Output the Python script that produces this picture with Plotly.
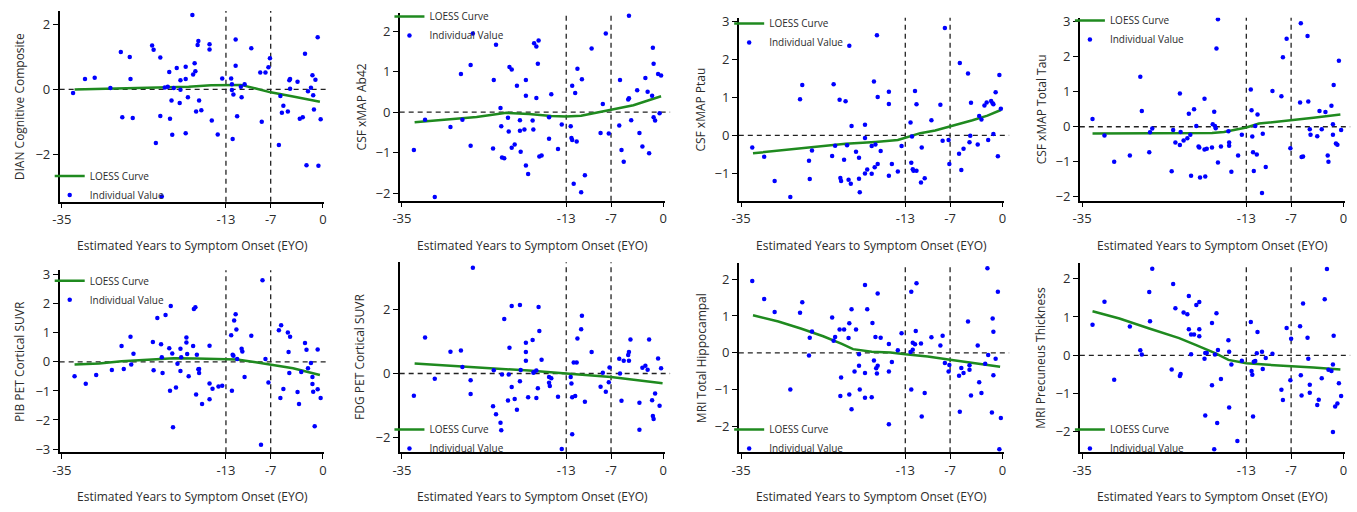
import plotly.graph_objects as go

W, H = 1357, 512

# ---------------- data ----------------
eyo_ticks = [-35, -13, -7, 0]
onset_lines = [-13, -7]

panel_titles = [
    "DIAN Cognitive Composite", "CSF xMAP Ab42", "CSF xMAP Ptau", "CSF xMAP Total Tau",
    "PIB PET Cortical SUVR", "FDG PET Cortical SUVR", "MRI Total Hippocampal", "MRI Precuneus Thickness",
]
x_title = "Estimated Years to Symptom Onset (EYO)"

y_tick_vals = [
    [-2, 0, 2], [-2, -1, 0, 1, 2], [-1, 0, 1, 2, 3], [-2, -1, 0, 1, 2, 3],
    [-3, -2, -1, 0, 1, 2, 3], [-2, 0, 2], [-2, -1, 0, 1, 2], [-2, -1, 0, 1, 2],
]
y_ranges = [
    [-3.46, 2.42], [-2.19, 2.45], [-1.72, 3.1], [-2.11, 3.11],
    [-3.11, 3.16], [-2.45, 3.46], [-2.7, 2.43], [-2.53, 2.4],
]
x_range = [-35.3, 0.2]

# individual values (EYO, value)
dian_points = [
    (-33.5, -0.11), (-31.9, 0.32), (-30.6, 0.36), (-28.5, 0.04), (-27.1, 1.15), (-26.9, -0.86),
    (-25.9, 1.0), (-25.8, 0.32), (-25.5, -0.88), (-22.9, 1.35), (-22.7, 1.22), (-22.4, -1.65),
    (-21.8, 0.98), (-21.8, -0.82), (-21.6, -3.3), (-21.2, 0.06), (-20.8, 0.08), (-20.6, 0.54),
    (-20.5, -0.9), (-20.3, -0.34), (-20.2, -1.4), (-20.0, 0.04), (-19.6, 0.66), (-19.2, -0.42),
    (-19.1, 0.28), (-19.1, -0.01), (-18.4, 0.7), (-18.4, 0.32), (-18.4, -1.35), (-18.1, -0.24),
    (-17.5, 2.29), (-17.4, 0.46), (-17.2, 0.81), (-17.1, 0.56), (-17.0, -0.68), (-16.8, 1.37),
    (-16.7, 1.49), (-16.6, -0.34), (-16.3, -0.64), (-15.2, 1.39), (-15.2, 1.23), (-14.9, -0.96),
    (-14.1, -1.39), (-13.5, 0.34), (-12.3, 0.34), (-12.2, 0.16), (-12.2, -0.02), (-12.1, -1.53),
    (-12.0, -0.16), (-11.7, 1.54), (-11.7, 0.73), (-11.5, -0.83), (-11.0, 0.08), (-10.9, -0.24),
    (-10.5, 0.16), (-9.6, 1.27), (-8.4, 0.52), (-8.2, -1.0), (-7.7, 0.52), (-7.3, 0.68),
    (-7.1, 0.96), (-5.9, -1.71), (-5.7, -0.2), (-5.5, -0.72), (-5.3, -0.5), (-4.7, -0.68),
    (-4.5, 0.28), (-4.4, 0.02), (-4.4, 0.32), (-3.4, 0.24), (-3.1, -0.9), (-2.7, -0.86),
    (-2.4, 1.1), (-2.2, -2.34), (-2.0, -0.06), (-1.6, 0.05), (-1.4, 0.44), (-1.3, -0.18),
    (-1.2, -0.62), (-1.0, 0.3), (-0.7, 1.61), (-0.6, -2.35), (-0.3, -0.92),
]
ab42_points = [
    (-33.4, -0.94), (-31.9, -0.19), (-30.6, -2.1), (-28.5, -0.37), (-27.1, 0.94), (-26.9, -0.19),
    (-25.8, 1.16), (-25.8, -0.83), (-25.5, 1.94), (-22.8, -0.9), (-22.7, 0.79), (-22.4, 1.66),
    (-21.8, 0.1), (-21.7, -0.35), (-21.6, -1.12), (-21.3, -1.14), (-20.8, -0.14), (-20.7, -0.48),
    (-20.6, 1.11), (-20.3, 1.05), (-20.3, -0.88), (-19.9, -0.8), (-19.6, 0.65), (-19.2, -0.2),
    (-19.2, -0.46), (-19.1, -0.98), (-18.6, -0.43), (-18.4, 0.79), (-18.4, 0.4), (-18.4, -1.32),
    (-18.1, -1.53), (-17.5, -0.21), (-17.4, -0.43), (-17.3, 1.7), (-17.0, 1.62), (-17.0, 0.35),
    (-16.8, 1.19), (-16.7, 1.77), (-16.6, -1.1), (-16.3, -1.07), (-15.3, -0.66), (-15.3, -0.13),
    (-15.0, 0.44), (-14.1, -0.91), (-13.6, -0.31), (-12.4, -0.35), (-12.3, -0.64), (-12.2, -0.69),
    (-12.2, 0.65), (-12.0, -1.77), (-11.8, 0.47), (-11.6, -0.73), (-11.5, 1.07), (-11.0, -1.98),
    (-10.9, 0.81), (-10.5, -1.56), (-9.6, 1.57), (-8.4, -0.52), (-8.1, 0.2), (-7.7, 1.94),
    (-7.3, -0.53), (-5.8, 0.79), (-5.9, -0.33), (-5.6, -0.94), (-5.3, -1.23), (-4.7, 0.31),
    (-4.6, 0.34), (-4.6, 2.38), (-4.3, -0.2), (-3.5, 0.54), (-3.2, -0.52), (-2.8, -0.85),
    (-2.4, 0.84), (-2.1, 0.5), (-1.9, -1.02), (-1.5, 0.4), (-1.4, 1.59), (-1.3, 1.19),
    (-1.3, -0.13), (-1.1, -0.21), (-0.7, 0.94), (-0.5, -0.03), (-0.3, 0.9),
]
ptau_points = [
    (-33.5, -0.32), (-31.9, -0.56), (-30.5, -1.2), (-28.4, -1.62), (-27.1, 0.95), (-26.8, 1.33),
    (-25.9, -0.67), (-25.8, -1.15), (-25.5, -0.4), (-22.8, -0.54), (-22.6, 1.35), (-22.4, -0.27),
    (-21.8, 0.94), (-21.7, -1.12), (-21.6, -1.2), (-21.2, -0.64), (-21.0, 0.9), (-20.8, -0.26),
    (-20.6, -1.17), (-20.5, 2.36), (-20.3, -1.27), (-20.2, 0.25), (-19.6, -0.43), (-19.2, -0.59),
    (-19.2, -1.14), (-19.1, -1.5), (-18.4, 0.28), (-18.4, -0.07), (-18.4, -1.0), (-18.1, -0.9),
    (-17.5, -1.01), (-17.5, -0.28), (-17.2, 1.42), (-17.1, -0.84), (-17.0, -0.24), (-16.8, 2.64),
    (-16.7, -0.75), (-16.7, 1.01), (-16.3, -0.41), (-15.2, 0.83), (-15.2, 1.15), (-15.2, -1.06),
    (-14.8, -0.75), (-14.0, -0.95), (-13.5, -0.28), (-12.3, 0.34), (-12.2, -0.72), (-12.1, -0.03),
    (-12.0, -0.89), (-11.9, -0.93), (-11.7, 1.17), (-11.5, -0.93), (-11.5, 0.82), (-10.9, -1.24),
    (-10.8, -0.32), (-10.4, -1.13), (-9.5, 0.4), (-8.3, 0.81), (-8.0, -0.14), (-7.7, 2.83),
    (-7.2, -0.12), (-7.1, -0.75), (-5.7, 1.91), (-5.8, -0.48), (-5.5, -0.91), (-5.2, -0.35),
    (-4.6, 1.63), (-4.4, -0.18), (-4.3, -0.01), (-4.2, 0.86), (-3.3, -0.24), (-3.1, 0.51),
    (-2.8, 0.42), (-2.4, 0.79), (-2.1, 0.87), (-1.9, -0.12), (-1.5, 0.91), (-1.3, 0.85),
    (-1.2, 0.04), (-1.2, 0.82), (-0.9, 1.14), (-0.6, -0.55), (-0.4, 1.59), (-0.2, 0.7),
]
ttau_points = [
    (-33.6, 0.22), (-32.0, -0.25), (-30.7, -1.0), (-28.6, -0.82), (-27.2, 1.43), (-27.0, 0.45),
    (-26.0, -0.73), (-25.9, -0.16), (-25.6, -0.05), (-23.0, -1.27), (-22.8, -0.09), (-22.5, -0.45),
    (-21.9, -0.52), (-21.9, 0.95), (-21.8, -0.15), (-21.4, -0.39), (-20.9, -0.33), (-20.7, 0.37),
    (-20.5, -0.23), (-20.4, -1.4), (-20.0, 0.5), (-19.7, 0.02), (-19.4, -0.56), (-19.3, -0.59),
    (-19.2, -1.45), (-18.6, -0.65), (-18.6, 0.8), (-18.5, -1.42), (-18.3, -0.63), (-17.6, -0.59),
    (-17.5, 0.07), (-17.3, 0.43), (-17.2, 0.02), (-17.1, -0.04), (-17.0, 2.23), (-16.8, -1.02),
    (-16.8, 3.07), (-16.4, -0.56), (-15.4, -0.13), (-15.3, -0.45), (-15.3, -0.54), (-15.0, -1.28),
    (-14.1, -0.82), (-13.6, -0.23), (-12.4, 1.06), (-12.3, 0.47), (-12.2, -0.28), (-12.1, -0.73),
    (-12.0, -1.26), (-11.8, 0.02), (-11.6, -0.79), (-11.5, 0.35), (-10.9, -1.89), (-10.8, -0.2),
    (-10.4, -1.15), (-9.5, 1.02), (-8.3, 0.87), (-8.1, 1.98), (-7.6, 2.51), (-7.1, -0.61),
    (-5.8, 0.69), (-5.7, 2.95), (-5.6, -0.86), (-5.4, -0.85), (-4.8, 2.59), (-4.7, 0.72),
    (-4.5, -0.07), (-4.4, -0.23), (-3.5, -0.27), (-3.2, 0.45), (-2.9, -0.07), (-2.4, 0.42),
    (-2.1, -0.82), (-2.0, -1.0), (-1.6, 0.6), (-1.4, 0.07), (-1.4, -0.23), (-1.3, 1.19),
    (-1.0, -0.48), (-0.8, -0.51), (-0.6, 1.88), (-0.3, -0.09),
]
pib_points = [
    (-33.3, -0.49), (-31.8, -0.75), (-30.4, -0.45), (-28.3, -0.28), (-27.0, 0.55), (-26.7, -0.24),
    (-25.8, 0.87), (-25.7, -0.09), (-25.4, 0.28), (-22.8, 0.69), (-22.7, -0.29), (-22.2, 1.51),
    (-21.7, 0.61), (-21.6, 0.16), (-21.5, -0.38), (-21.1, 1.62), (-20.6, 0.47), (-20.5, -0.99),
    (-20.4, 1.93), (-20.2, 0.29), (-20.1, -2.25), (-19.7, -0.88), (-19.5, -0.06), (-19.1, 0.45),
    (-19.1, -0.31), (-19.0, 0.16), (-18.3, 0.67), (-18.3, 0.84), (-18.2, 0.27), (-18.0, -0.49),
    (-17.4, 0.55), (-17.3, 1.82), (-17.1, 1.88), (-17.0, -1.12), (-16.9, 0.25), (-16.7, -0.25),
    (-16.6, -0.24), (-16.6, -0.38), (-16.2, -1.45), (-15.2, 0.56), (-15.2, -0.74), (-15.2, -1.29),
    (-14.8, -0.92), (-14.0, -0.85), (-13.5, -0.82), (-12.3, 0.92), (-12.2, -0.99), (-12.1, 0.25),
    (-12.0, 0.21), (-11.9, 1.43), (-11.7, 1.64), (-11.6, 1.12), (-11.5, 0.1), (-10.9, 0.45),
    (-10.8, 0.36), (-10.5, -0.52), (-9.6, 0.9), (-8.3, -2.85), (-8.1, 2.81), (-7.7, 0.1),
    (-7.3, -0.71), (-5.9, 1.09), (-5.7, -1.24), (-5.6, 1.26), (-5.3, -0.93), (-4.7, 1.01),
    (-4.6, 0.34), (-4.5, -0.38), (-4.4, 0.87), (-3.4, -1.04), (-3.2, -1.45), (-2.9, -0.35),
    (-2.4, 0.65), (-2.2, 0.42), (-2.0, -0.22), (-1.6, -0.04), (-1.4, -0.52), (-1.4, -0.76),
    (-1.3, -1.03), (-1.1, -2.22), (-0.7, 0.43), (-0.7, -0.94), (-0.3, -1.24),
]
fdg_points = [
    (-33.4, -0.69), (-31.9, 1.12), (-30.6, -0.16), (-28.5, 0.68), (-27.1, 0.72), (-26.9, 0.2),
    (-25.8, -0.21), (-25.8, -0.64), (-25.5, 3.29), (-22.8, -1.02), (-22.7, 0.1), (-22.4, -1.27),
    (-21.8, -1.53), (-21.7, -1.77), (-21.6, -0.03), (-21.3, 1.7), (-20.8, -0.84), (-20.7, -0.03),
    (-20.6, 0.8), (-20.3, 2.1), (-20.3, -0.42), (-19.9, -0.79), (-19.6, -1.13), (-19.2, -0.24),
    (-19.2, 2.13), (-19.1, 0.11), (-18.4, 0.96), (-18.4, 0.67), (-18.4, 0.4), (-18.1, -0.74),
    (-17.5, 1.04), (-17.4, 0.02), (-17.3, 0.05), (-17.0, 0.09), (-17.0, -0.76), (-16.8, -0.46),
    (-16.7, 2.07), (-16.6, 1.32), (-16.3, 0.43), (-15.3, -0.11), (-15.3, -0.29), (-15.2, -0.39),
    (-15.0, -0.15), (-14.1, -0.72), (-13.6, -2.35), (-12.4, -0.11), (-12.3, -0.31), (-12.2, -0.74),
    (-12.2, -1.89), (-12.0, 0.34), (-11.8, -0.7), (-11.6, 0.34), (-11.5, 1.09), (-11.0, 1.38),
    (-10.9, 1.8), (-10.5, -0.88), (-9.6, 0.67), (-8.4, -0.41), (-8.1, 0.02), (-7.7, -0.57),
    (-7.3, -0.27), (-7.2, 0.19), (-5.9, 0.46), (-5.8, 0.0), (-5.6, -0.85), (-5.3, 0.4),
    (-4.7, 0.58), (-4.6, 0.67), (-4.6, 0.4), (-4.4, 1.06), (-3.2, -1.75), (-3.2, -0.91),
    (-2.8, 0.18), (-2.4, 0.24), (-2.1, 0.12), (-1.9, 1.06), (-1.5, -0.83), (-1.4, -1.32),
    (-1.3, -1.42), (-1.1, -0.62), (-0.7, 0.47), (-0.5, -1.0), (-0.3, 0.16),
]
hippo_points = [
    (-33.5, 1.95), (-31.9, 1.46), (-30.5, 1.11), (-28.4, -1.0), (-27.1, 1.09), (-26.8, 1.37),
    (-25.9, -0.07), (-25.8, 0.41), (-25.5, 0.58), (-22.8, 0.96), (-22.6, 0.33), (-22.4, 0.43),
    (-21.8, 0.63), (-21.7, -1.17), (-21.6, -0.67), (-21.2, 0.63), (-20.6, 0.4), (-20.5, -1.13),
    (-20.5, 0.8), (-20.2, 1.18), (-20.2, -1.53), (-19.8, -0.51), (-19.6, 0.63), (-19.2, -0.04),
    (-19.2, -0.35), (-19.1, -1.0), (-18.4, 1.84), (-18.4, -0.55), (-18.4, -1.22), (-18.1, 1.18),
    (-17.5, -1.21), (-17.4, 0.81), (-17.2, -0.21), (-17.0, 0.43), (-16.9, -0.42), (-16.8, -0.56),
    (-16.7, -0.35), (-16.7, 1.61), (-16.3, 0.41), (-15.2, -0.51), (-15.2, 0.24), (-15.2, -1.94),
    (-14.8, -0.25), (-14.0, 0.07), (-13.5, 0.53), (-12.3, 0.02), (-12.2, 1.66), (-12.2, -1.0),
    (-12.0, 0.08), (-12.0, 0.27), (-11.7, 0.23), (-11.6, 0.59), (-11.5, 1.89), (-10.9, 0.25),
    (-10.8, -1.73), (-10.4, -1.09), (-9.5, 0.42), (-8.3, 0.2), (-8.0, 0.46), (-7.7, -0.28),
    (-7.2, -0.51), (-7.1, -0.33), (-5.8, -0.62), (-5.7, -1.6), (-5.5, -0.41), (-5.2, -0.55),
    (-4.6, 0.85), (-4.4, -0.46), (-4.4, -0.34), (-4.2, -1.16), (-3.3, 0.2), (-3.1, -0.8),
    (-2.8, -1.09), (-2.3, -0.3), (-2.0, 2.3), (-1.9, -0.06), (-1.4, -1.62), (-1.3, 0.93),
    (-1.2, -0.61), (-1.2, 0.57), (-0.9, -0.16), (-0.6, 1.66), (-0.4, -2.62), (-0.2, -1.77),
]
precun_points = [
    (-33.6, 0.8), (-32.0, 1.4), (-30.7, -0.64), (-28.6, 0.75), (-27.2, 0.13), (-27.0, 0.02),
    (-26.0, 1.65), (-25.9, 0.89), (-25.6, 2.26), (-23.0, -0.37), (-22.8, 1.86), (-22.5, 1.23),
    (-21.9, -0.54), (-21.8, -0.49), (-21.4, 1.12), (-20.9, 1.07), (-20.7, 1.55), (-20.7, 0.68),
    (-20.4, 0.54), (-20.4, 0.03), (-20.0, 0.54), (-19.7, 1.31), (-19.3, 1.39), (-19.3, 0.68),
    (-19.3, 0.5), (-18.6, -0.09), (-18.5, -1.57), (-18.5, 0.06), (-18.3, 0.06), (-17.6, 0.84),
    (-17.6, -0.78), (-17.3, -2.45), (-17.2, 0.02), (-17.0, 1.1), (-16.9, -1.77), (-16.8, 0.14),
    (-16.4, -0.62), (-15.4, 0.39), (-15.3, 0.09), (-15.3, -1.36), (-15.0, -0.24), (-14.2, -2.24),
    (-13.6, -0.14), (-12.4, 0.87), (-12.3, -0.41), (-12.2, -0.51), (-12.1, -1.6), (-12.0, -0.17),
    (-11.8, -0.15), (-11.6, 0.05), (-11.5, 0.61), (-10.9, 0.09), (-10.8, -0.36), (-10.4, -0.07),
    (-9.5, 0.04), (-8.3, -0.9), (-8.1, -1.17), (-7.6, 0.71), (-7.1, -0.65), (-7.0, 0.43),
    (-5.7, -0.52), (-5.8, 0.76), (-5.6, -1.05), (-5.4, 1.35), (-4.8, 0.46), (-4.7, -0.09),
    (-4.5, -0.77), (-4.5, -0.98), (-3.5, -1.3), (-3.3, -1.16), (-2.9, -0.6), (-2.5, 1.46),
    (-2.2, 2.25), (-2.0, -0.38), (-1.6, -0.41), (-1.4, -0.24), (-1.3, 0.51), (-1.4, -2.0),
    (-1.1, -1.34), (-0.8, -1.26), (-0.6, -0.73), (-0.3, -1.06),
]

# LOESS curves (EYO, fitted value)
dian_loess = [(-33.3, 0.0), (-28, 0.02), (-22, 0.05), (-18, 0.08), (-15, 0.13), (-13, 0.14),
              (-11, 0.14), (-9, 0.03), (-7, -0.09), (-4, -0.22), (-0.4, -0.38)]
ab42_loess = [(-33.3, -0.25), (-29, -0.19), (-25, -0.12), (-21, -0.02), (-18, -0.05), (-15, -0.1),
              (-13, -0.11), (-11, -0.09), (-9, -0.02), (-7, 0.05), (-4, 0.17), (-0.3, 0.39)]
ptau_loess = [(-33.4, -0.47), (-29, -0.38), (-25, -0.3), (-21, -0.22), (-17, -0.17), (-14, -0.12),
              (-13, -0.06), (-11, 0.06), (-9, 0.13), (-7, 0.23), (-4, 0.4), (-2, 0.52), (-0.2, 0.67)]
ttau_loess = [(-33.6, -0.19), (-28, -0.19), (-22, -0.19), (-17.6, -0.18), (-16, -0.15), (-14.5, -0.08),
              (-13, -0.02), (-11.3, 0.09), (-9, 0.14), (-7.1, 0.19), (-4, 0.26), (-0.4, 0.35)]
pib_loess = [(-33.3, -0.09), (-30, -0.05), (-27, 0.02), (-24, 0.07), (-20, 0.13), (-17, 0.12),
             (-13, 0.1), (-11.5, 0.08), (-9, -0.01), (-7, -0.09), (-4, -0.22), (-0.4, -0.45)]
fdg_loess = [(-33.3, 0.31), (-25, 0.2), (-18, 0.09), (-13, 0.0), (-7, -0.11), (-0.1, -0.3)]
hippo_loess = [(-33.4, 1.02), (-30, 0.85), (-27, 0.66), (-24, 0.45), (-21.5, 0.24), (-20, 0.1),
               (-17.5, 0.03), (-15, 0.01), (-13, -0.04), (-10, -0.1), (-7, -0.19), (-4, -0.27), (-0.3, -0.38)]
precun_loess = [(-33.6, 1.15), (-30, 0.96), (-26, 0.7), (-22, 0.45), (-19.8, 0.27), (-17.1, 0.05),
                (-15.4, -0.12), (-13, -0.21), (-10, -0.25), (-7, -0.28), (-4, -0.32), (-0.4, -0.37)]

all_points = [dian_points, ab42_points, ptau_points, ttau_points,
              pib_points, fdg_points, hippo_points, precun_points]
all_loess = [dian_loess, ab42_loess, ptau_loess, ttau_loess,
             pib_loess, fdg_loess, hippo_loess, precun_loess]

# ---------------- layout (pixels) ----------------
col_px = [(53, 319.5), (395.3, 662.2), (736.7, 1003.5), (1080, 1346.8)]
row_px = [(5, 200), (7, 199), (12, 199), (12, 199), (270, 456), (262, 456), (263, 456), (263, 456)]
legend_px = [(43, 159), (385, -4), (727, 3), (1070, 0), (43, 266), (385, 418), (727, 418), (1070, 418)]
ytitle_x_px = [12, 357, 698, 1041, 12, 355, 699, 1041]
xtitle_y_px = [245, 501]

FONT = "Open Sans, Liberation Sans, sans-serif"
TXT = "#2b2b2b"
GREEN = "#1f8a1f"
BLUE = "#0000ff"
DASH = "5px,4px"


def fx(px):
    return px / W


def fy(py):
    return 1 - py / H


fig = go.Figure()
layout = dict(
    width=W, height=H, margin=dict(l=0, r=0, t=0, b=0),
    paper_bgcolor="white", plot_bgcolor="white",
    font=dict(family=FONT, color=TXT),
    showlegend=True,
)
shapes = []
annotations = []

for i in range(8):
    n = i + 1
    col = i % 4
    row = i // 4
    xa = "x" if n == 1 else f"x{n}"
    ya = "y" if n == 1 else f"y{n}"
    lg = "legend" if n == 1 else f"legend{n}"

    pts = all_points[i]
    lo = all_loess[i]
    fig.add_trace(go.Scatter(
        x=[p[0] for p in lo], y=[p[1] for p in lo], mode="lines",
        line=dict(color=GREEN, width=2.5), name="LOESS Curve",
        xaxis=xa, yaxis=ya, legend=lg, hoverinfo="skip",
    ))
    fig.add_trace(go.Scatter(
        x=[p[0] for p in pts], y=[p[1] for p in pts], mode="markers",
        marker=dict(color=BLUE, size=4.5), name="Individual Value",
        xaxis=xa, yaxis=ya, legend=lg,
    ))

    x0, x1 = col_px[col]
    t, b = row_px[i]
    axkey = "xaxis" if n == 1 else f"xaxis{n}"
    aykey = "yaxis" if n == 1 else f"yaxis{n}"
    layout[axkey] = dict(
        domain=[fx(x0), fx(x1)], anchor=ya, range=x_range,
        tickmode="array", tickvals=eyo_ticks, ticktext=[str(v) for v in eyo_ticks],
        showline=True, linecolor="black", linewidth=1.5, mirror=False,
        ticks="outside", ticklen=5, tickwidth=1.3, tickcolor="black",
        showgrid=False, zeroline=False,
        tickfont=dict(size=13, color=TXT, family=FONT),
    )
    layout[aykey] = dict(
        domain=[fy(b), fy(t)], anchor=xa, range=y_ranges[i],
        tickmode="array", tickvals=y_tick_vals[i],
        showline=True, linecolor="black", linewidth=1.5,
        ticks="outside", ticklen=5, tickwidth=1.3, tickcolor="black",
        showgrid=False, zeroline=False,
        tickfont=dict(size=13, color=TXT, family=FONT),
    )
    lx, ly = legend_px[i]
    layout[lg] = dict(
        x=fx(lx), y=fy(ly), xanchor="left", yanchor="top",
        bgcolor="rgba(0,0,0,0)", borderwidth=0,
        font=dict(size=10, color=TXT, family=FONT),
        itemwidth=30, tracegroupgap=0,
    )

    xref = "x" if n == 1 else f"x{n}"
    yref = "y" if n == 1 else f"y{n}"
    for v in onset_lines:
        shapes.append(dict(type="line", xref=xref, yref=f"{yref} domain", x0=v, x1=v, y0=0, y1=1,
                           line=dict(color="#222222", width=1.3, dash=DASH), layer="below"))
    shapes.append(dict(type="line", xref=f"{xref} domain", yref=yref, x0=0, x1=1.02, y0=0, y1=0,
                       line=dict(color="#222222", width=1.3, dash=DASH), layer="below"))

    annotations.append(dict(
        text=panel_titles[i], textangle=-90, xref="paper", yref="paper",
        x=fx(ytitle_x_px[i]), y=fy((t + b) / 2), xanchor="center", yanchor="middle",
        showarrow=False, font=dict(size=12, color=TXT, family=FONT),
    ))
    annotations.append(dict(
        text=x_title, xref="paper", yref="paper",
        x=fx((x0 + x1) / 2), y=fy(xtitle_y_px[row]), xanchor="center", yanchor="middle",
        showarrow=False, font=dict(size=12, color=TXT, family=FONT),
    ))

layout["shapes"] = shapes
layout["annotations"] = annotations
fig.update_layout(**layout)
fig.write_html(
    "out.html",
    config={"displayModeBar": False},
    post_script="document.body.style.margin='0px';document.body.style.overflow='hidden';",
)
